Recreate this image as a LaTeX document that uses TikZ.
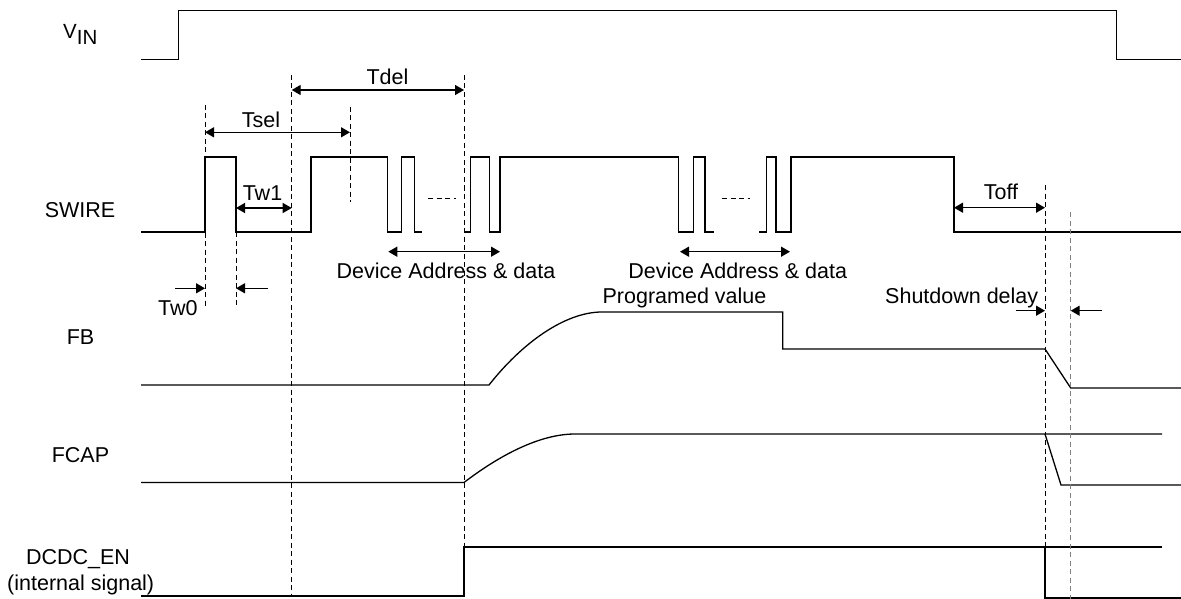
\documentclass[tikz,border=0pt]{standalone}
\usepackage{fontspec}
\setmainfont{Liberation Sans}
\usetikzlibrary{arrows.meta}

\begin{document}
\begin{tikzpicture}[x=1pt, y=-1pt,
    sig/.style={draw, line width=1.3pt},
    guide/.style={draw, line width=0.9pt, dash pattern=on 5pt off 3.5pt},
    dim/.style={draw, line width=1.4pt, {Triangle[length=9pt,width=10pt]}-{Triangle[length=9pt,width=10pt]}},
    arr/.style={draw, line width=1.4pt, -{Triangle[length=9pt,width=10pt]}},
    lbl/.style={anchor=base, inner sep=0pt, font=\fontsize{21.5}{24}\selectfont}]
  \path[use as bounding box] (0,0) rectangle (1181,599);

  \node[lbl, anchor=base west, font=\fontsize{20.5}{23}\selectfont] (vin) at (63,38.3) {V\raisebox{-6.7pt}{IN}};
  \node[lbl] (swire) at (80,217.5) {SWIRE};
  \node[lbl] (fb) at (80.5,344.3) {FB};
  \node[lbl] (fcap) at (80.5,462.3) {FCAP};
  \node[lbl] (dcdc) at (78,564) {DCDC\_EN};
  \node[lbl] (intsig) at (80.7,590) {(internal signal)};

  \node[lbl] (tdel) at (387.5,85) {Tdel};
  \node[lbl] (tsel) at (261,127.3) {Tsel};
  \node[lbl] (twone) at (262.5,200.7) {Tw1};
  \node[lbl] (twzero) at (177.8,315.7) {Tw0};
  \node[lbl] (toff) at (1001,199.3) {Toff};
  \node[lbl] (devone) at (446,278.3) {Device Address \& data};
  \node[lbl] (devtwo) at (737.7,278.3) {Device Address \& data};
  \node[lbl] (progval) at (684.5,303.3) {Programed value};
  \node[lbl] (shutdn) at (961.7,303.3) {Shutdown delay};

  \draw[sig] (141,59.3) -- (178.3,59.3) -- (178.3,10.7) -- (1116.7,10.7) -- (1116.7,59.3) -- (1181,59.3);

  \draw[sig] (141,232) -- (205,232) -- (205,157) -- (236,157) -- (236,232) -- (311,232) -- (311,157)
    -- (387.3,157) -- (387.3,232) -- (401.7,232) -- (401.7,157) -- (414.3,157) -- (414.3,232) -- (422,232);
  \draw[sig] (464,232) -- (470.5,232) -- (470.5,157) -- (489.3,157) -- (489.3,232) -- (500,232) -- (500,157)
    -- (678.3,157) -- (678.3,232) -- (693.3,232) -- (693.3,157) -- (705,157) -- (705,232) -- (714.3,232);
  \draw[sig] (759.3,232) -- (766.7,232) -- (766.7,157) -- (776,157) -- (776,232) -- (791,232) -- (791,157)
    -- (954,157) -- (954,232) -- (1181,232);
  \draw[guide] (428,198) -- (456,198);
  \draw[guide] (722,198) -- (750,198);

  \draw[sig] (141,385) -- (489,385) .. controls (522,343) and (565,312) .. (602,312) -- (782.7,312)
    -- (782.7,349) -- (1045,349) -- (1070.7,388) -- (1181,388);

  \draw[sig] (141,482.5) -- (464,482.5) .. controls (500,455) and (540,434) .. (575,434) -- (1162,434);
  \draw[sig] (1045,434) -- (1061,485) -- (1181,485);

  \draw[sig] (141,596) -- (464,596) -- (464,547) -- (1162,547);
  \draw[sig] (1045,547) -- (1045,598) -- (1181,598);

  \draw[guide] (205,105) -- (205,308);
  \draw[guide] (236,232) -- (236,308);
  \draw[guide] (291.7,75) -- (291.7,596);
  \draw[guide] (350,106.7) -- (350,202);
  \draw[guide] (464,75) -- (464,596);
  \draw[guide] (1045,185) -- (1045,599);
  \draw[guide, gray] (1070.7,212) -- (1070.7,599);

  \coordinate (tdelL) at (291.7,90);
  \coordinate (tdelR) at (464,90);
  \coordinate (tselL) at (205,132.3);
  \coordinate (tselR) at (350,132.3);
  \coordinate (twoneL) at (236,208);
  \coordinate (twoneR) at (291.7,208);
  \coordinate (twzeroA) at (175,288.3);
  \coordinate (twzeroB) at (205,288.3);
  \coordinate (twzeroC) at (268,288.3);
  \coordinate (twzeroD) at (236,288.3);
  \coordinate (devoneL) at (388.3,251.7);
  \coordinate (devoneR) at (500,251.7);
  \coordinate (devtwoL) at (680,251.7);
  \coordinate (devtwoR) at (790,251.7);
  \coordinate (toffL) at (954,207.7);
  \coordinate (toffR) at (1045,207.7);
  \coordinate (shutA) at (1015.7,310.7);
  \coordinate (shutB) at (1045,310.7);
  \coordinate (shutC) at (1101.7,310.7);
  \coordinate (shutD) at (1070.7,310.7);

  \draw[dim] (tdelL) -- (tdelR);
  \draw[dim] (tselL) -- (tselR);
  \draw[dim] (twoneL) -- (twoneR);
  \draw[arr] (twzeroA) -- (twzeroB);
  \draw[arr] (twzeroC) -- (twzeroD);
  \draw[dim] (devoneL) -- (devoneR);
  \draw[dim] (devtwoL) -- (devtwoR);
  \draw[dim] (toffL) -- (toffR);
  \draw[arr] (shutA) -- (shutB);
  \draw[arr] (shutC) -- (shutD);
\end{tikzpicture}
\end{document}
